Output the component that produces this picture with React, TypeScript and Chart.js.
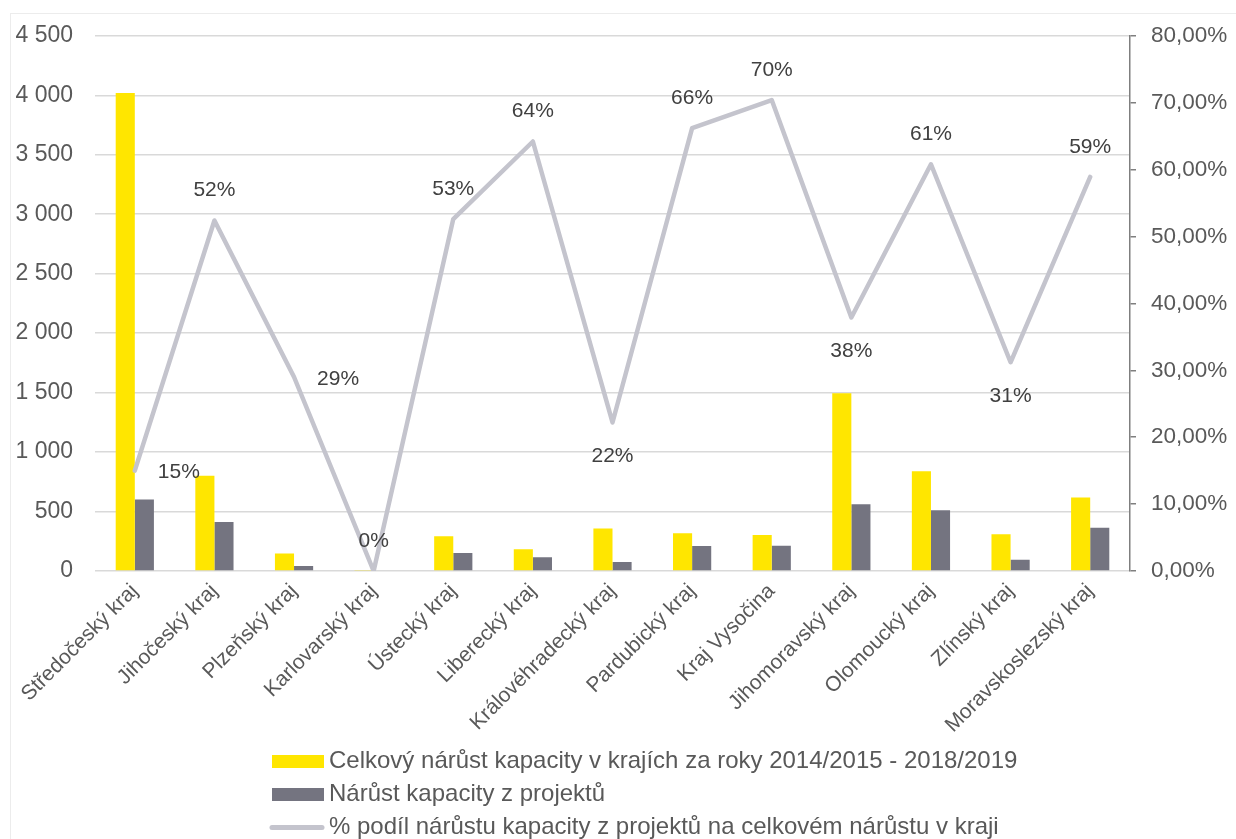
import React, { useEffect, useRef } from "react";
import { Chart, registerables } from "chart.js";

Chart.register(...registerables);

const categories = [
  "Středočeský kraj",
  "Jihočeský kraj",
  "Plzeňský kraj",
  "Karlovarský kraj",
  "Ústecký kraj",
  "Liberecký kraj",
  "Královéhradecký kraj",
  "Pardubický kraj",
  "Kraj Vysočina",
  "Jihomoravský kraj",
  "Olomoucký kraj",
  "Zlínský kraj",
  "Moravskoslezský kraj",
];

const totalGrowth = [4020, 800, 148, 5, 293, 182, 358, 318, 302, 1495, 838, 310, 618];
const projectGrowth = [601, 413, 42, 0, 151, 115, 75, 210, 212, 562, 511, 95, 363];
const projectShare = [15.0, 52.4, 29.0, 0, 52.6, 64.2, 22.2, 66.2, 70.4, 37.9, 60.8, 31.2, 58.9];

const seriesNames = [
  "Celkový nárůst kapacity v krajích za roky 2014/2015 - 2018/2019",
  "Nárůst kapacity z projektů",
  "% podíl nárůstu kapacity z projektů na celkovém nárůstu v kraji",
];

const leftAxisMax = 4500;
const leftAxisStep = 500;
const rightAxisMax = 80;
const rightAxisStep = 10;

const labelPlacement = [
  "right", "above", "right", "above", "above", "above", "below",
  "above", "above", "below", "above", "below", "above",
];

const FONT = "'Liberation Sans', Arial, sans-serif";
const YELLOW = "#FFE600";
const DARK = "#747480";
const LINE = "#C4C4CD";

const fmtThousands = (v: number) =>
  String(Math.round(v)).replace(/\B(?=(\d{3})+(?!\d))/g, " ");

const dataLabelPlugin = {
  id: "dataLabels",
  afterDatasetsDraw(chart: any) {
    const meta = chart.getDatasetMeta(2);
    const ctx = chart.ctx;
    ctx.save();
    ctx.font = `21px ${FONT}`;
    ctx.fillStyle = "#404040";
    ctx.textBaseline = "middle";
    ctx.textAlign = "center";
    meta.data.forEach((pt: any, i: number) => {
      const v = chart.data.datasets[2].data[i];
      const text = Math.round(v) + "%";
      let x = pt.x;
      let y = pt.y;
      const p = labelPlacement[i];
      if (p === "above") y -= 30;
      else if (p === "below") y += 34;
      else if (p === "right") {
        x += 44;
        y += 2;
      }
      ctx.fillText(text, x, y);
    });
    ctx.restore();
  },
};

const legendPlugin = {
  id: "customLegend",
  afterDraw(chart: any) {
    const ctx = chart.ctx;
    const ds = chart.data.datasets;
    const rowsY = [761.5, 794.5, 827.5];
    ctx.save();
    ctx.font = `24px ${FONT}`;
    ctx.textBaseline = "middle";
    ctx.textAlign = "left";
    ds.forEach((d: any, i: number) => {
      const y = rowsY[i];
      if (d.type === "line") {
        ctx.strokeStyle = d.borderColor;
        ctx.lineWidth = 5;
        ctx.lineCap = "round";
        ctx.beginPath();
        ctx.moveTo(272, y);
        ctx.lineTo(322, y);
        ctx.stroke();
      } else {
        ctx.fillStyle = d.backgroundColor;
        ctx.fillRect(272, y - 6.5, 52, 13);
      }
      ctx.fillStyle = "#595959";
      ctx.fillText(d.label, 329, y);
    });
    ctx.restore();
  },
};

export default function App() {
  const canvasRef = useRef<HTMLCanvasElement | null>(null);

  useEffect(() => {
    if (!canvasRef.current) return;
    const chart = new Chart(canvasRef.current, {
      data: {
        labels: categories,
        datasets: [
          {
            type: "bar",
            label: seriesNames[0],
            data: totalGrowth,
            backgroundColor: YELLOW,
            yAxisID: "y",
            order: 1,
            categoryPercentage: 0.48,
            barPercentage: 1,
          },
          {
            type: "bar",
            label: seriesNames[1],
            data: projectGrowth,
            backgroundColor: DARK,
            yAxisID: "y",
            order: 1,
            categoryPercentage: 0.48,
            barPercentage: 1,
          },
          {
            type: "line",
            label: seriesNames[2],
            data: projectShare,
            borderColor: LINE,
            backgroundColor: LINE,
            borderWidth: 4.5,
            borderCapStyle: "round",
            borderJoinStyle: "round",
            pointRadius: 0,
            pointHoverRadius: 0,
            tension: 0,
            yAxisID: "y1",
            order: 0,
          },
        ],
      } as any,
      options: {
        animation: false,
        responsive: true,
        maintainAspectRatio: false,
        layout: { padding: { top: 34, left: 0, right: 0, bottom: 0 } },
        plugins: {
          legend: { display: false },
          tooltip: { enabled: false },
          title: { display: false },
        },
        scales: {
          x: {
            type: "category",
            offset: true,
            grid: { display: false, drawTicks: false },
            border: { display: false },
            ticks: {
              autoSkip: false,
              maxRotation: 45,
              minRotation: 45,
              padding: 8,
              color: "#595959",
              font: { family: FONT, size: 21 },
            },
            afterFit: (s: any) => {
              s.height = 268;
            },
          },
          y: {
            type: "linear",
            position: "left",
            min: 0,
            max: leftAxisMax,
            grid: { color: "#D9D9D9", lineWidth: 1.5, drawTicks: false },
            border: { display: false },
            ticks: {
              stepSize: leftAxisStep,
              padding: 22,
              color: "#595959",
              font: { family: FONT, size: 23 },
              callback: (v: any) => fmtThousands(Number(v)),
            },
            afterFit: (s: any) => {
              s.width = 95;
            },
          },
          y1: {
            type: "linear",
            position: "right",
            min: 0,
            max: rightAxisMax,
            grid: {
              drawOnChartArea: false,
              drawTicks: true,
              tickLength: 6,
              color: "#7F7F7F",
              lineWidth: 1.5,
            },
            border: { display: true, color: "#7F7F7F", width: 1.5 },
            ticks: {
              stepSize: rightAxisStep,
              padding: 15,
              color: "#595959",
              font: { family: FONT, size: 22.5 },
              callback: (v: any) => Number(v).toFixed(2).replace(".", ",") + "%",
            },
            afterFit: (s: any) => {
              s.width = 106;
            },
          },
        },
      } as any,
      plugins: [dataLabelPlugin, legendPlugin],
    });
    return () => chart.destroy();
  }, []);

  return (
    <div style={{ position: "absolute", left: 0, top: 0, width: 1236, height: 839, background: "#fff", overflow: "hidden" }}>
      <div
        style={{
          position: "absolute",
          left: 10,
          top: 13,
          width: 1240,
          height: 840,
          border: "1px solid #ECECEC",
        }}
      />
      <div style={{ position: "absolute", left: 0, top: 0, width: 1236, height: 839 }}>
        <canvas ref={canvasRef} />
      </div>
    </div>
  );
}
